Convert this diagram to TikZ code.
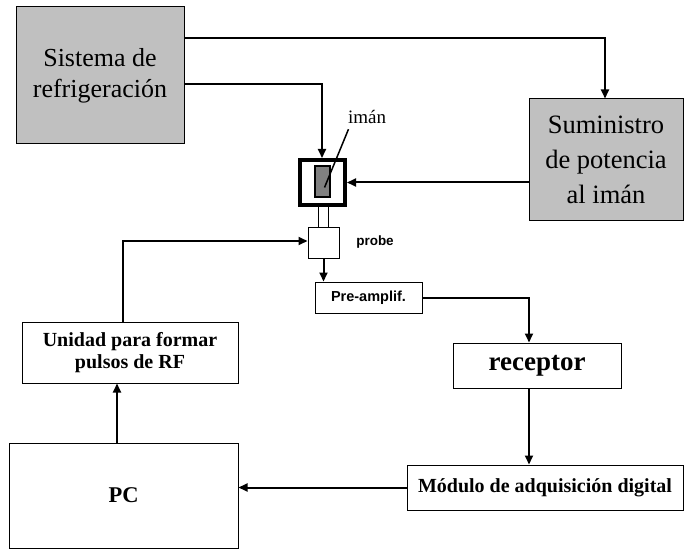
\documentclass[tikz,border=0pt]{standalone}
\usepackage{fontspec}
\setmainfont{Liberation Serif}
\setsansfont{Liberation Sans}
\usetikzlibrary{positioning}
\usetikzlibrary{arrows.meta}

\definecolor{boxgray}{HTML}{C0C0C0}
\definecolor{coregray}{HTML}{808080}

\begin{document}
\begin{tikzpicture}[x=1pt, y=-1pt,
>={Triangle[length=9pt,width=8pt]},
graynode/.style={rectangle, draw=black, fill=boxgray, line width=1pt, inner sep=0pt, align=center},
whitenode/.style={rectangle, draw=black, fill=white, line width=1pt, inner sep=0pt, align=center},
magnetnode/.style={rectangle, draw=black, fill=white, line width=4pt, inner sep=0pt, minimum size=45pt},
corenode/.style={rectangle, draw=black, fill=coregray, line width=2pt, inner sep=0pt, minimum width=15pt, minimum height=31pt},
link/.style={line width=2pt},
]
\useasboundingbox (0,0) rectangle (686,559);

%Nodes
\node[graynode, minimum width=168pt, minimum height=137pt, font=\fontsize{26}{31}\selectfont] (sist) at (100,75.5)
  {Sistema de\\refrigeración};
\node[graynode, minimum width=154pt, minimum height=122pt, font=\fontsize{26.5}{35}\selectfont] (sumin) at (606,160)
  {Suministro\\de potencia\\al imán};
\node[magnetnode] (magnet) at (322.5,182.5) {};
\node[corenode]   (core)   at (322.5,181.5) {};
\node[whitenode, minimum width=10pt, minimum height=21pt] (tube) at (323,217.5) {};
\node[whitenode, minimum width=31pt, minimum height=30pt] (probe) at (323.5,243) {};
\node[font=\fontsize{19}{22}\selectfont] (imanlbl) at (367,117) {imán};
\node[font=\sffamily\bfseries\fontsize{13.5}{16}\selectfont] (probelbl) at (375,242) {probe};
\node[whitenode, minimum width=107pt, minimum height=31pt, font=\sffamily\bfseries\fontsize{14.5}{17}\selectfont] (preamp) at (368.5,297.5) {Pre-amplif.};
\node[whitenode, minimum width=168pt, minimum height=45pt, font=\bfseries\fontsize{27}{32}\selectfont] (receptor) at (537,365.5) {receptor};
\node[whitenode, minimum width=276pt, minimum height=45pt, font=\bfseries\fontsize{20}{24}\selectfont] (modulo) at (545,487.5) {Módulo de adquisición digital};
\node[whitenode, minimum width=229pt, minimum height=105pt, font=\bfseries\fontsize{22.5}{26}\selectfont] (pc) at (123.5,495.5) {PC};
\node[whitenode, minimum width=216pt, minimum height=61pt, font=\bfseries\fontsize{20}{22.5}\selectfont] (unidad) at (130,352.5) {Unidad para formar\\pulsos de RF};
\coordinate (bus) at (529,0);

%Lines
\draw[link,->] (sist.east |- 0,38) -| ([xshift=-1pt]sumin.north);
\draw[link,->] (sist.east |- 0,84) -| ([xshift=-0.5pt]magnet.north);
\draw[link,->] (sumin.west |- magnet.east) -- (magnet.east);
\draw[line width=1.5pt] ([xshift=4pt,yshift=-2pt]imanlbl.south west) -- ([xshift=2pt,yshift=-6pt]core.center);
\draw[link,->] ([xshift=-7pt]unidad.north) |- ([yshift=2pt]probe.west);
\draw[link,->] (probe.south) -- (probe.south |- preamp.north);
\draw[link,->] (preamp.east) -| (bus |- receptor.north);
\draw[link,->] (bus |- receptor.south) -- (bus |- modulo.north);
\draw[link,->] (modulo.west) -- (pc.east |- modulo.west);
\draw[link,->] ([xshift=-6.5pt]pc.north) -- ([xshift=-6.5pt]pc.north |- unidad.south);
\end{tikzpicture}
\end{document}
